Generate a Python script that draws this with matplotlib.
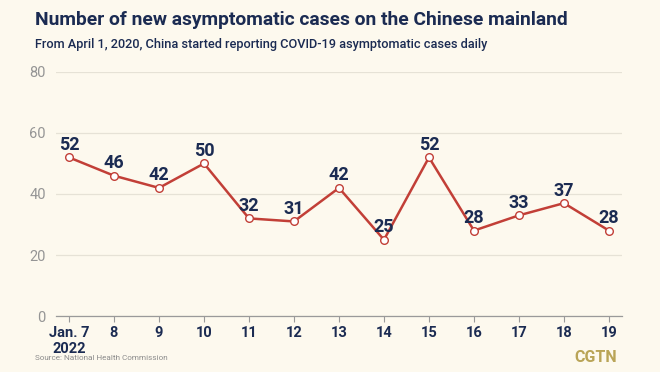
import matplotlib
matplotlib.use("Agg")
import matplotlib.pyplot as plt

days = ["Jan. 7\n2022", "8", "9", "10", "11", "12", "13", "14", "15", "16", "17", "18", "19"]
cases = [52, 46, 42, 50, 32, 31, 42, 25, 52, 28, 33, 37, 28]
y_ticks = [0, 20, 40, 60, 80]

FONT = "Roboto"
plt.rcParams["font.family"] = [FONT, "DejaVu Sans"]

BG = "#FDF9EE"
NAVY = "#1B2B52"
RED = "#C23F37"

fig = plt.figure(figsize=(6.6, 3.72), dpi=100, facecolor=BG)
ax = fig.add_axes([0.0841, 0.1505, 0.859, 0.656], facecolor=BG)
renderer = fig.canvas.get_renderer()


def fit(t, width_px):
    w = t.get_window_extent(renderer).width
    t.set_fontsize(t.get_fontsize() * width_px / w)


x = list(range(len(days)))
ax.plot(x, cases, color=RED, lw=1.8, zorder=3)
ax.plot(x, cases, "o", ms=5.5, mfc="white", mec=RED, mew=1.0, zorder=4)

for xi, v in zip(x, cases):
    ax.annotate(str(v), (xi, v), xytext=(0, 2.5), textcoords="offset points",
                ha="center", va="bottom", fontsize=13, fontweight="bold",
                color=NAVY, zorder=5)

ax.set_xlim(-0.3, len(days) - 1 + 0.3)
ax.set_ylim(0, 80)
ax.set_yticks(y_ticks)
ax.set_yticklabels([str(t) for t in y_ticks])
ax.set_xticks(x)
ax.set_xticklabels(days)
ax.grid(axis="y", color="#E6E2D6", lw=0.9)
ax.set_axisbelow(True)
for s in ["top", "right", "left"]:
    ax.spines[s].set_visible(False)
ax.spines["bottom"].set_color("#9A9A9A")
ax.spines["bottom"].set_linewidth(0.9)
ax.tick_params(axis="y", length=0, colors="#959595", labelsize=10.5, pad=7)
ax.tick_params(axis="x", length=4, color="#9A9A9A", colors=NAVY, labelsize=10.5, pad=3)
for lab in ax.get_xticklabels():
    lab.set_fontweight("bold")
    lab.set_linespacing(1.25)

t1 = fig.text(0.053, 0.945, "Number of new asymptomatic cases on the Chinese mainland",
              fontsize=15, fontweight="bold", color=NAVY, ha="left", va="center")
t2 = fig.text(0.053, 0.88, "From April 1, 2020, China started reporting COVID-19 asymptomatic cases daily",
              fontsize=10, color=NAVY, ha="left", va="center", fontweight="medium")
t3 = fig.text(0.053, 0.037, "Source: National Health Commission", fontsize=7,
              color="#8C8C8C", ha="left", va="center")
fit(t1, 537)
fit(t2, 452)
fit(t3, 132)
fig.text(0.935, 0.04, "CGTN", fontsize=11.5, fontweight="bold", color="#B9A457",
         ha="right", va="center")

fig.savefig("out.png", dpi=100, facecolor=BG)
